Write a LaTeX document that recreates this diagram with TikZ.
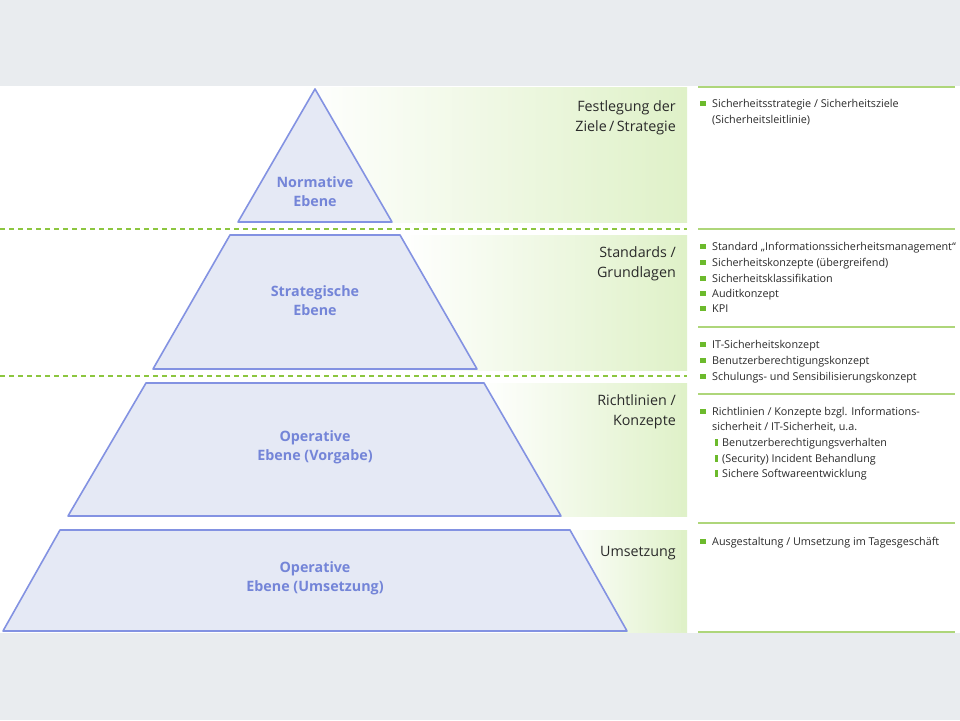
\documentclass[tikz,border=0pt]{standalone}
\usepackage{fontspec}
\setmainfont{Open Sans}
\usetikzlibrary{calc}
\definecolor{bggray}{HTML}{E9ECEF}
\definecolor{pyrline}{HTML}{8392E2}
\definecolor{pyrfill}{HTML}{E5E9F5}
\definecolor{pyrtext}{HTML}{7485D8}
\definecolor{gband}{HTML}{DFF1C8}
\definecolor{gline}{HTML}{AED67A}
\definecolor{gdash}{HTML}{8CC63F}
\definecolor{bulgreen}{HTML}{6CBA2C}
\definecolor{txtgray}{HTML}{2A2A2A}
\tikzset{
  level/.style={draw=pyrline, fill=pyrfill, line width=1.6pt, line join=round},
  leveltext/.style={text=pyrtext, font=\fontsize{14.3}{19}\selectfont\bfseries, align=center, inner sep=0pt},
  midtext/.style={text=txtgray, font=\fontsize{14.3}{20}\selectfont, align=right, anchor=base east, inner sep=0pt},
  rtext/.style={text=txtgray, font=\fontsize{10.8}{12}\selectfont, anchor=base west, inner sep=0pt},
  sepline/.style={draw=gline, line width=1.6pt},
  dashline/.style={draw=gdash, line width=1.6pt, dash pattern=on 5pt off 4pt},
}
\newcommand\bitem[3]{%
  \fill[bulgreen] (700,#2-2.5) rectangle ++(5.5,5.5);
  \node[rtext] (#1) at (712,#2+4) {#3};}
\newcommand\bcont[3]{%
  \node[rtext] (#1) at (712,#2+4) {#3};}
\newcommand\bsub[3]{%
  \fill[bulgreen] (715,#2-3) rectangle ++(2.5,6.5);
  \node[rtext] (#1) at (722,#2+4) {#3};}
\begin{document}
\begin{tikzpicture}[x=1pt,y=-1pt]
\useasboundingbox (0,0) rectangle (960,720);
\fill[bggray] (0,0) rectangle (960,720);
\fill[white] (0,86) rectangle (960,633);
% green gradient bands
\shade[left color=white, right color=gband] (300,87) rectangle (687,222);
\shade[left color=white, right color=gband] (400,235) rectangle (687,370);
\shade[left color=white, right color=gband] (480,383) rectangle (687,516);
\shade[left color=white, right color=gband] (560,530) rectangle (687,632);
\fill[gband] (681,87) rectangle (687,222);
\fill[gband] (681,235) rectangle (687,370);
\fill[gband] (681,383) rectangle (687,516);
\fill[gband] (681,530) rectangle (687,632);
% dashed separators
\coordinate (d1l) at (0,229); \coordinate (d1r) at (687,229);
\coordinate (d2l) at (0,376); \coordinate (d2r) at (687,376);
\draw[dashline] (d1l) -- (d1r);
\draw[dashline] (d2l) -- (d2r);
% pyramid
\draw[level] (315,89) -- (392,222) -- (238,222) -- cycle;
\draw[level] (230,235) -- (400,235) -- (477,369) -- (153,369) -- cycle;
\draw[level] (146,383) -- (484,383) -- (561,516) -- (68,516) -- cycle;
\draw[level] (60,530) -- (570,530) -- (627,631) -- (3,631) -- cycle;
\node[leveltext] (l1) at (315,191.5) {Normative\\Ebene};
\node[leveltext] (l2) at (315,300.5) {Strategische\\Ebene};
\node[leveltext] (l3) at (315,447.5) {Operative\\Ebene (Vorgabe)};
\node[leveltext] (l4) at (315,578.5) {Operative\\Ebene (Umsetzung)};
% middle labels (anchor = baseline of last line)
\node[midtext] (m1) at (676,131) {Festlegung der\\Ziele\,/\,Strategie};
\node[midtext] (m2) at (676,277) {Standards /\\Grundlagen};
\node[midtext] (m3) at (676,425) {Richtlinien /\\Konzepte};
\node[midtext] (m4) at (676,556) {Umsetzung};
% right column lines
\coordinate (s0l) at (698,87);  \coordinate (s0r) at (955,87);
\coordinate (s1l) at (698,229); \coordinate (s1r) at (955,229);
\coordinate (s2l) at (698,327); \coordinate (s2r) at (955,327);
\coordinate (s3l) at (698,394); \coordinate (s3r) at (955,394);
\coordinate (s4l) at (698,523); \coordinate (s4r) at (955,523);
\coordinate (s5l) at (698,632); \coordinate (s5r) at (955,632);
\draw[sepline] (s0l) -- (s0r);
\draw[sepline] (s1l) -- (s1r);
\draw[sepline] (s2l) -- (s2r);
\draw[sepline] (s3l) -- (s3r);
\draw[sepline] (s4l) -- (s4r);
\draw[sepline] (s5l) -- (s5r);
% right column texts
\bitem{r1}{103}{Sicherheitsstrategie / Sicherheitsziele}
\bcont{r1b}{119}{(Sicherheitsleitlinie)}
\bitem{r2}{246}{Standard „Informationssicherheitsmanagement“}
\bitem{r3}{262}{Sicherheitskonzepte (übergreifend)}
\bitem{r4}{278}{Sicherheitsklassifikation}
\bitem{r5}{293}{Auditkonzept}
\bitem{r6}{308}{KPI}
\bitem{r7}{344}{IT-Sicherheitskonzept}
\bitem{r8}{360}{Benutzerberechtigungskonzept}
\bitem{r9}{376}{Schulungs- und Sensibilisierungskonzept}
\bitem{r10}{411}{Richtlinien / Konzepte bzgl. Informations-}
\bcont{r10b}{426}{sicherheit / IT-Sicherheit, u.a.}
\bsub{r11}{442}{Benutzerberechtigungsverhalten}
\bsub{r12}{458}{(Security) Incident Behandlung}
\bsub{r13}{473}{Sichere Softwareentwicklung}
\bitem{r14}{541}{Ausgestaltung / Umsetzung im Tagesgeschäft}
\end{tikzpicture}
\end{document}
